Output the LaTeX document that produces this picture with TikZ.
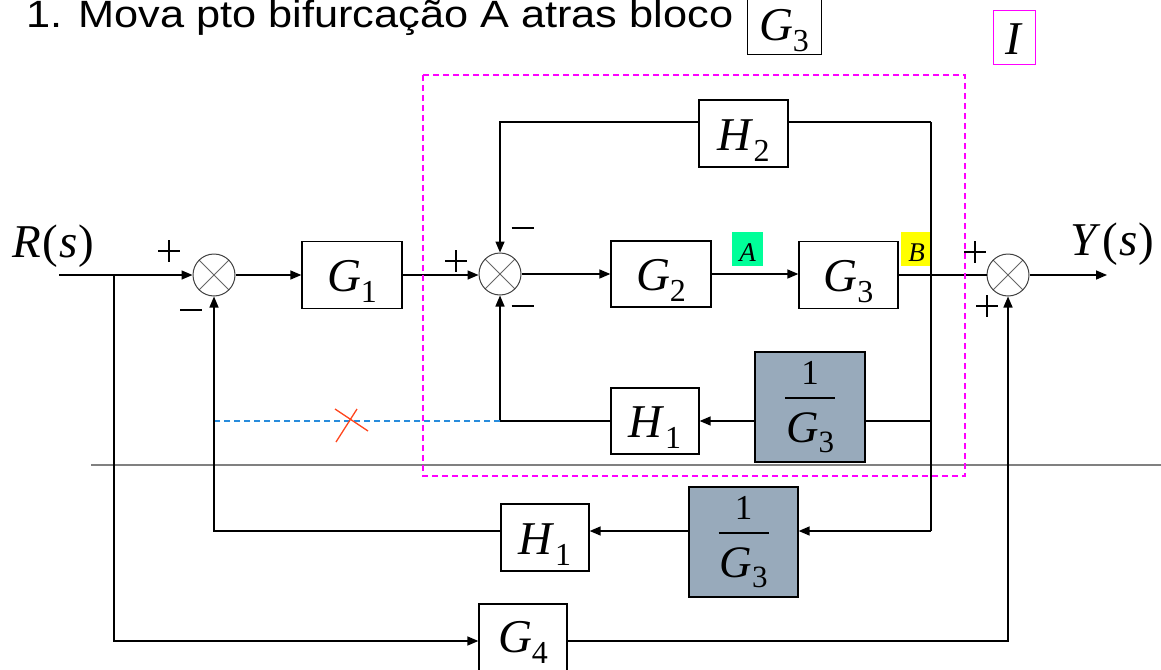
\documentclass[tikz,border=0pt]{standalone}
\usepackage{fontspec}
\setmainfont{Liberation Serif}
\newfontfamily\hdfont{Liberation Sans}
\newfontfamily\tms{Liberation Serif}

\usetikzlibrary{arrows.meta,calc}

\definecolor{boxgray}{RGB}{152,170,187}
\definecolor{markgreen}{RGB}{0,255,153}
\definecolor{markyellow}{RGB}{255,255,0}
\definecolor{regionpink}{RGB}{255,0,255}
\definecolor{oldpath}{RGB}{40,140,220}
\definecolor{crossred}{RGB}{255,70,30}
\definecolor{rulegray}{RGB}{128,128,128}

% block label: italic letter with a large upright subscript
\newcommand\blklabel[2]{{\rmfamily\fontsize{47}{47}\selectfont\itshape #1\/}{\rmfamily\fontsize{32}{32}\selectfont\upshape\raisebox{-11pt}{#2}}}
\newcommand\fraclabel[2]{{\rmfamily\fontsize{45}{45}\selectfont\itshape #1\/}{\rmfamily\fontsize{31}{31}\selectfont\upshape\raisebox{-10pt}{#2}}}
% signal name such as R(s)
\newcommand\signame[1]{{\rmfamily\fontsize{47}{47}\selectfont\itshape #1\/\kern2pt\upshape(\kern1pt\itshape s\/\kern1pt\upshape)}}

\begin{document}
\begin{tikzpicture}[x=1pt,y=-1pt,
  conn/.style={line width=1.5pt},
  arr/.style={line width=1.5pt,-{Triangle[length=11pt,width=9pt]}},
  blk/.style={draw,line width=1.3pt,fill=white,inner sep=0pt,text height=33pt,text depth=0pt},
  invblk/.style={draw,line width=1.3pt,fill=boxgray,inner sep=0pt},
  sumj/.style={circle,draw=black!75,line width=1pt,minimum size=42pt,inner sep=0pt,fill=white,
    path picture={\draw[black!60,line width=0.8pt]
      (path picture bounding box.south west) -- (path picture bounding box.north east)
      (path picture bounding box.north west) -- (path picture bounding box.south east);}},
  sign/.style={line width=1.8pt},
  tag/.style={inner sep=0pt,minimum width=31pt,minimum height=34pt,text height=24pt,text depth=0pt,
    font=\rmfamily\fontsize{27}{27}\selectfont\itshape},
  numfont/.style={font=\rmfamily\fontsize{35}{35}\selectfont}
]
\useasboundingbox (0,0) rectangle (1161,669);
\clip (0,0) rectangle (1161,669);

% heading
\node[anchor=base west,inner sep=0pt,font=\hdfont\fontsize{38}{40}\selectfont] (title) at (26,28)
  {\scalebox{1.14}[1]{1. Mova pto bifurcação A atras bloco}};
\node[draw,line width=1pt,inner sep=0pt,minimum width=74pt,minimum height=62pt,text height=33pt,text depth=0pt] (tG3) at (784,24) {\blklabel{G}{3}};
\node[draw=regionpink,line width=1pt,inner sep=0pt,minimum width=42pt,minimum height=54pt,text height=33pt,text depth=0pt] (tagI) at (1014,38)
  {\rmfamily\fontsize{47}{47}\selectfont\itshape I\/};

% separating rule
\draw[rulegray,line width=2pt] (91,465) -- (1161,465);

% summing junctions
\node[sumj] (s1) at (214,275) {};
\node[sumj] (s2) at (500,274) {};
\node[sumj] (s3) at (1008,275) {};

% forward path blocks
\node[blk,minimum width=100pt,minimum height=67pt] (G1) at (352,275) {\blklabel{G}{1}};
\node[blk,minimum width=100pt,minimum height=66pt] (G2) at (661,274) {\blklabel{G}{2}};
\node[blk,minimum width=99pt,minimum height=67pt] (G3) at (848.5,275) {\blklabel{G}{3}};
\node[blk,minimum width=89pt,minimum height=67pt] (H2) at (743.5,133.5) {\blklabel{H}{2}};

% inner feedback branch
\node[blk,minimum width=88pt,minimum height=66pt] (Hi) at (655,421) {\blklabel{H}{1}};
\node[invblk,minimum width=110pt,minimum height=110pt] (inv1) at (810,407) {};
\node[numfont,anchor=base,inner sep=0pt] (inv1n) at (810,384) {1};
\draw[line width=1.8pt] (785,398) -- (835,398);
\node[anchor=base,inner sep=0pt] (inv1d) at (810,442) {\fraclabel{G}{3}};

% relocated feedback branch
\node[blk,minimum width=88pt,minimum height=67pt] (Hl) at (545,537.5) {\blklabel{H}{1}};
\node[invblk,minimum width=109pt,minimum height=110pt] (inv2) at (743.5,542) {};
\node[numfont,anchor=base,inner sep=0pt] (inv2n) at (743.5,519) {1};
\draw[line width=1.8pt] (718.5,533) -- (768.5,533);
\node[anchor=base,inner sep=0pt] (inv2d) at (743.5,577) {\fraclabel{G}{3}};

% feedforward block
\node[blk,minimum width=88pt,minimum height=72pt,text height=24pt] (G4) at (523,640) {\blklabel{G}{4}};

% branch point markers
\node[tag,fill=markgreen] (tA) at (747.5,249) {A};
\node[tag,fill=markyellow] (tB) at (916.5,249) {B};

% signals
\node[anchor=base west,inner sep=0pt] (R) at (12,257) {\signame{R}};
\node[anchor=base west,inner sep=0pt] (Y) at (1070,255) {\signame{Y}};

\coordinate (in) at (59,275);
\coordinate (fork) at (114,275);
\coordinate (out) at (1107,275);
\coordinate (Btop) at (931,122);
\coordinate (Bin) at (931,421);
\coordinate (Blow) at (931,531);

% forward path
\draw[arr] (in) -- (s1.west);
\draw[arr] (s1.east) -- (G1.west);
\draw[arr] (G1.east) -- (G1.east -| s2.west);
\draw[arr] (s2.east) -- (G2.west);
\draw[arr] (G2.east) -- (G2.east -| G3.west);
\draw[conn] (G3.east) -- (s3.west);
\draw[arr] (s3.east) -- (out);

% feedforward through G4
\draw[arr] (fork) |- (G4.west |- 0,641);
\draw[arr] (G4.east |- 0,641) -| (s3.south);

% take-off line at B
\draw[conn] (Btop) -- (Blow);
\draw[conn] (Btop) -- (Btop -| H2.east);
\draw[arr] (Btop -| H2.west) -| (s2.north);

% inner feedback
\draw[conn] (Bin) -- (Bin -| inv1.east);
\draw[arr] (inv1.west |- Hi.east) -- (Hi.east);
\draw[arr] (Hi.west) -| (s2.south);

% removed connection
\draw[oldpath,line width=1.3pt,dash pattern=on 6pt off 4pt] (s2.south |- Hi.west) -- (s1.south |- Hi.west);
\draw[crossred,line width=1.3pt] (335,409) -- (368,431) (357,409) -- (336,442);

% relocated feedback
\draw[arr] (Blow) -- (Blow -| inv2.east);
\draw[arr] (inv2.west |- Blow) -- (Blow -| Hl.east);
\draw[arr] (Blow -| Hl.west) -| (s1.south);

% signs at the junctions
\draw[sign] (169,251) ++(-11,0) -- ++(22,0) ++(-11,-11) -- ++(0,22);
\draw[sign] (191,310) ++(-11,0) -- ++(22,0);
\draw[sign] (456,261) ++(-11,0) -- ++(22,0) ++(-11,-11) -- ++(0,22);
\draw[sign] (522.5,228) ++(-11,0) -- ++(22,0);
\draw[sign] (522.5,306) ++(-11,0) -- ++(22,0);
\draw[sign] (975,252) ++(-11,0) -- ++(22,0) ++(-11,-11) -- ++(0,22);
\draw[sign] (987,306) ++(-11,0) -- ++(22,0) ++(-11,-11) -- ++(0,22);

% subsystem outline
\draw[regionpink,line width=1.2pt,dash pattern=on 6pt off 4pt] (423,75) rectangle (965,476);
\end{tikzpicture}
\end{document}
